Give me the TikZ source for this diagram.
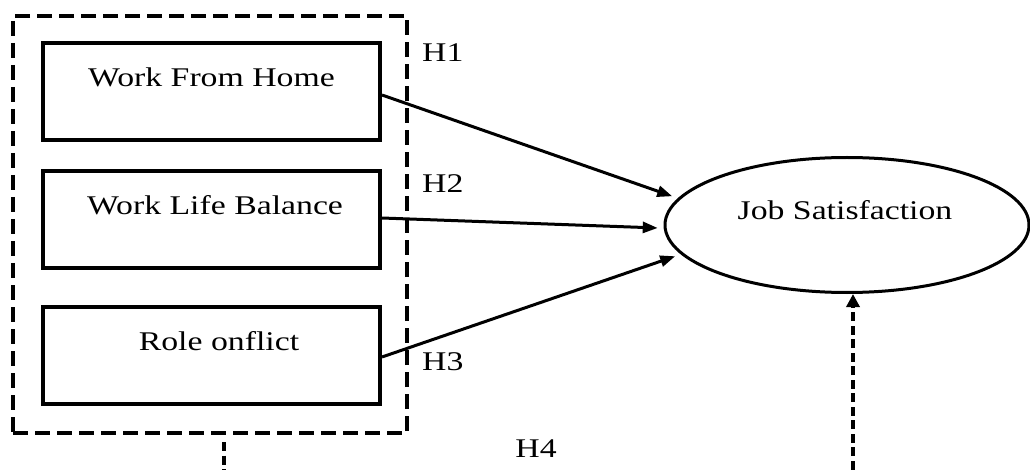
\documentclass[tikz,border=0pt]{standalone}
\usepackage{fontspec}
\setmainfont{Liberation Serif}[FakeStretch=1.25]
\usetikzlibrary{shapes.geometric,arrows.meta,calc}
\tikzset{
  varbox/.style={draw, line width=4pt, rectangle, minimum width=337pt, minimum height=97pt, inner sep=0pt},
  grpbox/.style={draw, line width=4pt, rectangle, dash pattern=on 15pt off 7pt, minimum width=394pt, minimum height=417pt, inner sep=0pt},
  lbl/.style={anchor=base, inner sep=0pt, font=\fontsize{27}{30}\selectfont},
  hlbl/.style={anchor=base west, inner sep=0pt, font=\fontsize{27}{30}\selectfont},
  path/.style={line width=3pt, shorten >=6pt, -{Triangle[length=15pt,width=11pt]}},
  modpath/.style={line width=4.5pt, dash pattern=on 9pt off 4.5pt, -{Triangle[length=13pt,width=13pt]}},
}
\begin{document}
\begin{tikzpicture}[x=1pt,y=-1pt]
\useasboundingbox (0,0) rectangle (1030,470);
\fill[white] (0,0) rectangle (1030,470);
% group box
\node[grpbox] (grp) at (210,224.5) {};
% variable boxes
\node[varbox] (b1) at (211.5,91.5) {};
\node[varbox] (b2) at (211.5,220) {};
\node[varbox] (b3) at (211.5,355) {};
\node[lbl] (t1) at ($(b1.center)+(0,-4.5)$) {Work From Home};
\node[lbl] (t2) at ($(b2.center)+(3.5,-5)$) {Work Life Balance};
\node[lbl] (t3) at ($(b3.center)+(7.5,-5)$) {Role onflict};
% dependent variable
\node[draw, ellipse, line width=3pt, minimum width=364pt, minimum height=135pt, inner sep=0pt] (js) at (847,225) {};
\node[lbl] (jst) at (845,220) {Job Satisfaction};
% paths
\draw[path] ([yshift=-3.5pt]b1.east) -- (js.171);
\draw[path] ([yshift=2pt]b2.east) -- (js.181);
\draw[path] ([yshift=-2pt]b3.east) -- (js.190);
% hypothesis labels
\node[hlbl] (h1) at (422,62) {H1};
\node[hlbl] (h2) at (422,193) {H2};
\node[hlbl] (h3) at (422,370) {H3};
\node[lbl] (h4) at (536,457) {H4};
% moderation path
\coordinate (c1) at (224,472);
\coordinate (c2) at (853,472);
\draw[modpath] ($(grp.south)+(14,7)$) -- (c1) -- (c2) -- (c2 |- js.south);
\end{tikzpicture}
\end{document}
